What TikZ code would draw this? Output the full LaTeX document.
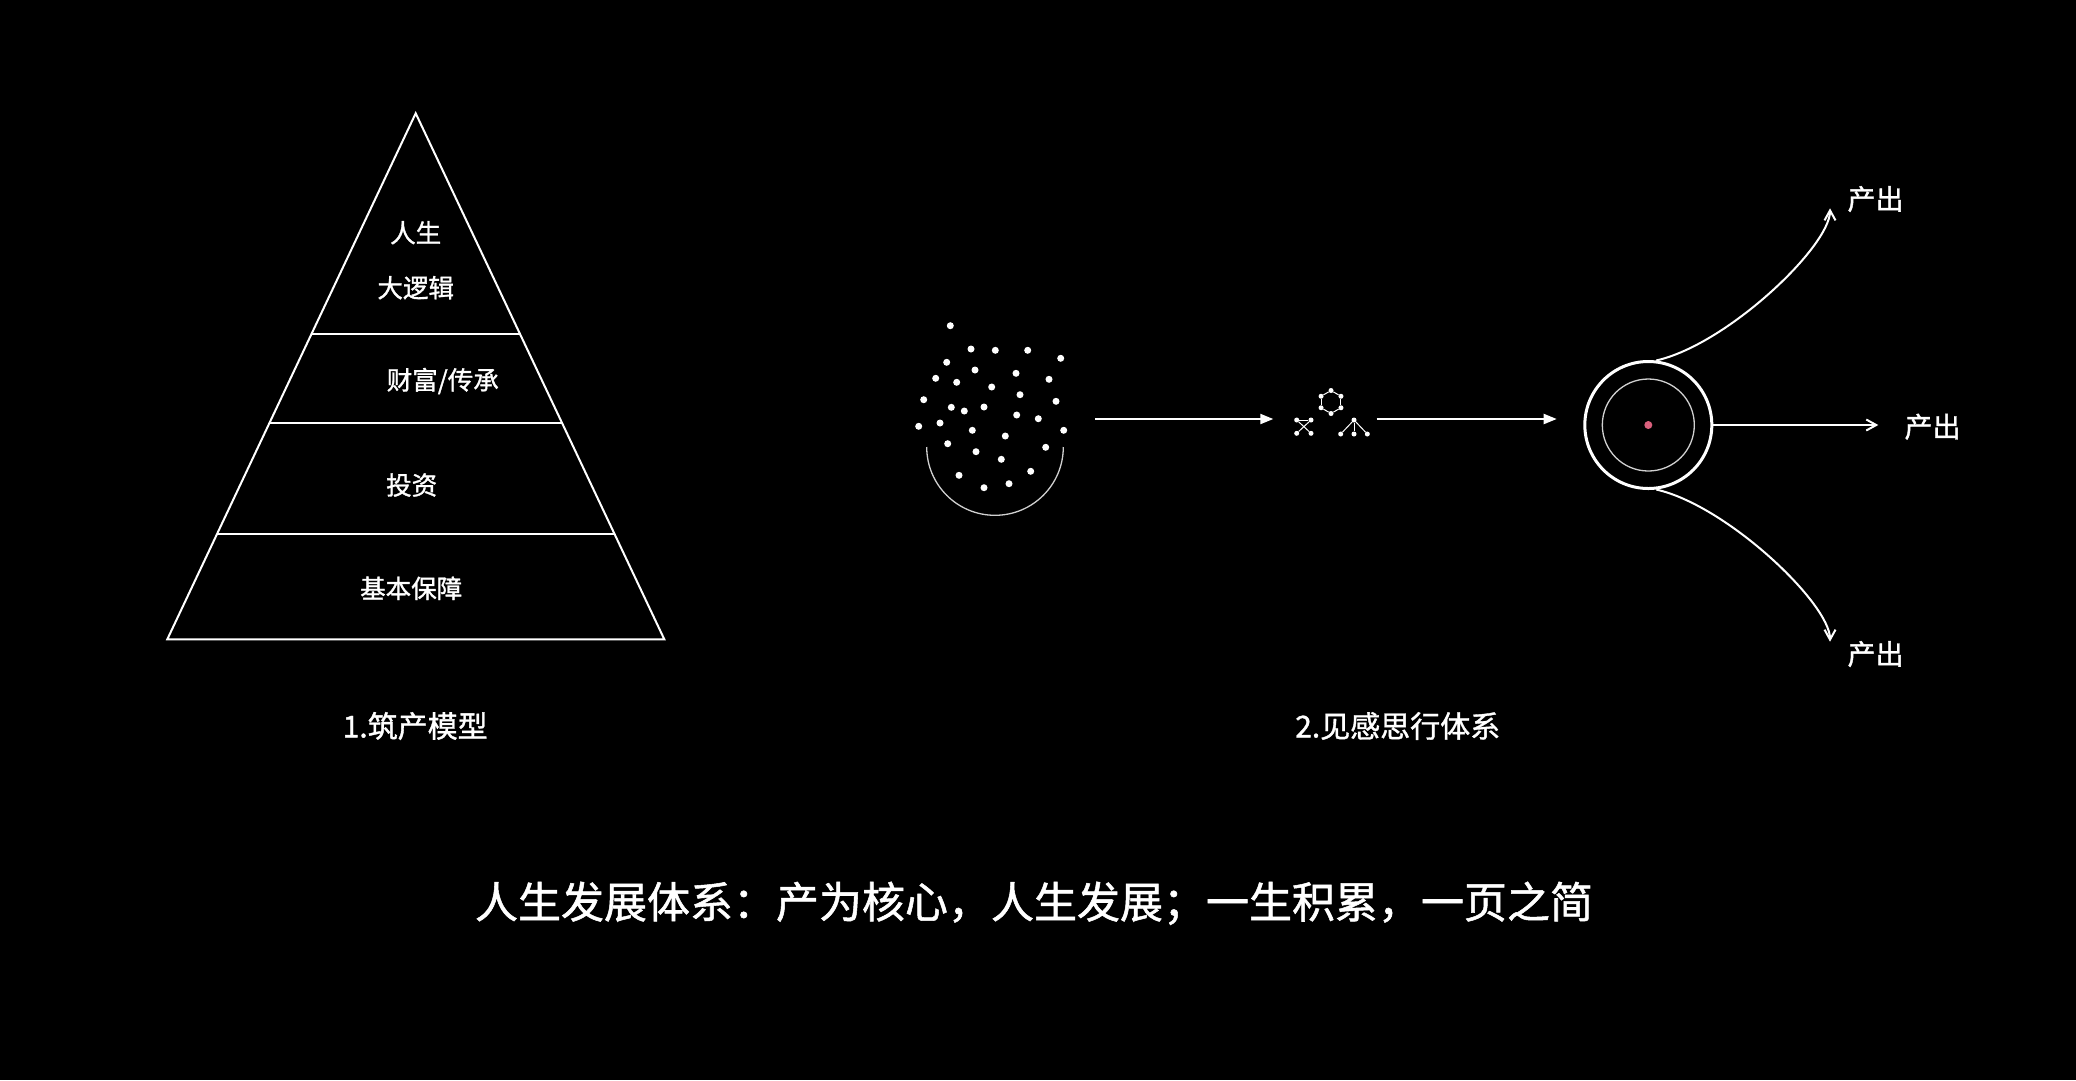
\documentclass[tikz,border=0pt]{standalone}
\usepackage{fontspec}
\newfontfamily\cjk{Noto Sans CJK SC}[FakeBold=1.2]
\usetikzlibrary{arrows.meta,positioning,calc}
\definecolor{seedred}{HTML}{D9607C}
\definecolor{faint}{HTML}{D0D0D0}
\tikzset{
  layer/.style={text=white,inner sep=0pt,font=\cjk\fontsize{25.5}{28}\selectfont},
  caption/.style={text=white,inner sep=0pt,font=\cjk\fontsize{30}{34}\selectfont},
  outlbl/.style={text=white,inner sep=0pt,font=\cjk\fontsize{28}{32}\selectfont},
  headline/.style={text=white,inner sep=0pt,font=\cjk\fontsize{43}{48}\selectfont},
  pyr/.style={draw=white,line width=2pt},
  speck/.style={circle,fill=white,inner sep=0pt,minimum size=7pt},
  knot/.style={circle,fill=white,inner sep=0pt,minimum size=5pt},
  link/.style={draw=white,line width=1pt},
  flow/.style={draw=white,line width=2pt,-{Triangle[length=13pt,width=10pt]}},
  yield/.style={draw=white,line width=2pt,-{Straight Barb[length=10pt,width=11pt]}}
}
\begin{document}
\begin{tikzpicture}[x=1pt,y=-1pt]
    \fill[black] (0,0) rectangle (2076,1080);
    \useasboundingbox (0,0) rectangle (2076,1080);
    \coordinate (apex) at (415.7,113.3);
    \coordinate (baseL) at (167.3,639.3);
    \coordinate (baseR) at (664.3,639.3);
    \draw[pyr,line join=miter] (apex) -- (baseR) -- (baseL) -- cycle;
    \foreach \t in {0.42,0.589,0.8}
      \draw[pyr] ($(apex)!\t!(baseL)$) -- ($(apex)!\t!(baseR)$);
    \node[layer] (L1a) at (415.7,232.7) {人生};
    \node[layer] (L1b) at (415.7,287.7) {大逻辑};
    \node[layer] (L2) at (442.8,381) {财富/传承};
    \node[layer] (L3) at (411.7,485) {投资};
    \node[layer] (L4) at (411.2,588.3) {基本保障};
    \node[caption] (cap1) at (415.2,726) {1.筑产模型};
    \foreach \p [count=\i] in {(950.3,325.7),(971,349),(995.3,350.3),(1027.7,350.3),
      (1060.7,358.3),(946.7,362.3),(975,370),(1016,373.3),(935.7,378.3),(956.7,382.3),
      (1049,379.3),(991.7,387),(1020,394.7),(923.7,399.7),(1056,401.3),(951.3,407.3),
      (964.3,411),(984,407),(1016.7,415),(1038.3,418.7),(918.7,426.3),(940,423),
      (972.3,430.3),(1063.7,430.3),(1005.3,436),(947.7,443.7),(1045.7,447.3),
      (976,451.7),(1001.3,459.3),(1030.7,471.3),(959,475.3),(984,487.7),(1009,483.7)}
      \node[speck] (s\i) at \p {};
    \coordinate (bowlL) at (926.7,447);
    \draw[faint,line width=1.3pt] (bowlL) arc[start angle=180,end angle=360,radius=68.3pt];
    \coordinate (a1s) at (1095,419);
    \coordinate (a1e) at (1273.3,419);
    \path (a1s) edge[flow] (a1e);
    \foreach \k in {0,...,5}
      \node[knot] (h\k) at ($(1331,402)+(90+60*\k:11.5pt)$) {};
    \foreach \k [evaluate=\k as \n using {int(mod(\k+1,6))}] in {0,...,5}
      \path (h\k) edge[link] (h\n);
    \node[knot] (x1) at (1296.7,420) {};
    \node[knot] (x2) at (1311,420) {};
    \node[knot] (x3) at (1296.7,433.3) {};
    \node[knot] (x4) at (1311,433.3) {};
    \path (x1) edge[link] (x2);
    \path (x1) edge[link] (x4);
    \path (x2) edge[link] (x3);
    \node[knot] (t0) at (1354,420) {};
    \node[knot] (t1) at (1340.7,434) {};
    \node[knot] (t2) at (1354,434) {};
    \node[knot] (t3) at (1367.3,434) {};
    \foreach \k in {1,2,3}
      \path (t0) edge[link] (t\k);
    \coordinate (a2s) at (1376.7,419);
    \coordinate (a2e) at (1556.7,419);
    \path (a2s) edge[flow] (a2e);
    \node[circle,draw=white,line width=3pt,minimum size=127pt,inner sep=0pt] (ring) at (1648.3,425) {};
    \node[circle,draw=faint,line width=1.3pt,minimum size=92pt,inner sep=0pt] (core) at (ring.center) {};
    \node[circle,fill=seedred,minimum size=8pt,inner sep=0pt] (seed) at (ring.center) {};
    \node[outlbl] (out1) at (1875.5,199) {产出};
    \node[outlbl] (out2) at (1932.5,426.7) {产出};
    \node[outlbl] (out3) at (1875.5,654) {产出};
    \coordinate (tip1) at (1830,208.3);
    \coordinate (tip2) at (1878.3,425);
    \coordinate (tip3) at (1830,641.7);
    \draw[yield] (ring.83) .. controls +(71,-16) and +(0,38) .. (tip1);
    \path (ring) edge[yield] (tip2);
    \draw[yield] (ring.-83) .. controls +(71,16) and +(0,-38) .. (tip3);
    \node[caption] (cap2) at (1397.7,726) {2.见感思行体系};
    \node[headline] (motto) at (1034,903.3) {人生发展体系：产为核心，人生发展；一生积累，一页之简};
\end{tikzpicture}
\end{document}
